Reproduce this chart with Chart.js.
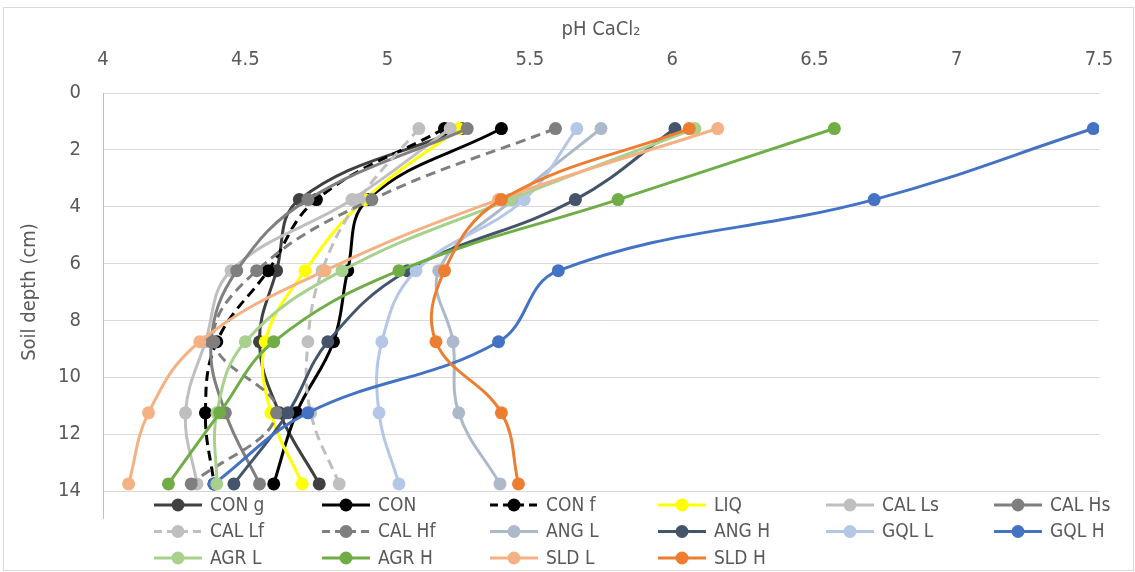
<!DOCTYPE html>
<html>
<head>
<meta charset="utf-8">
<script src="https://cdn.jsdelivr.net/npm/chart.js@4.4.1/dist/chart.umd.min.js"></script>
<style>
  html, body { margin: 0; padding: 0; background: #ffffff; }
  #wrap { width: 1135px; height: 572px; position: relative; }
</style>
</head>
<body>
<div id="wrap"><canvas id="c"></canvas></div>
<script>
// Sampling depths (cm) and axis tick values
const depths = [1.25, 3.75, 6.25, 8.75, 11.25, 13.75];
const depthTicks = [0, 2, 4, 6, 8, 10, 12, 14];
const phTicks = [4, 4.5, 5, 5.5, 6, 6.5, 7, 7.5];

// pH (CaCl2) profile of each treatment, top to bottom
const conG  = [5.26, 4.69, 4.61, 4.55, 4.62, 4.76];
const con   = [5.40, 4.93, 4.86, 4.81, 4.68, 4.60];
const conF  = [5.20, 4.75, 4.58, 4.40, 4.36, 4.39];
const liq   = [5.25, 4.92, 4.71, 4.57, 4.59, 4.70];
const calLs = [5.22, 4.875, 4.45, 4.36, 4.29, 4.33];
const calHs = [5.28, 4.72, 4.47, 4.38, 4.43, 4.55];
const calLf = [5.11, 4.90, 4.77, 4.72, 4.73, 4.83];
const calHf = [5.59, 4.945, 4.54, 4.39, 4.61, 4.31];
const angL  = [5.75, 5.44, 5.18, 5.23, 5.25, 5.395];
const angH  = [6.01, 5.66, 5.07, 4.79, 4.65, 4.46];
const gqlL  = [5.665, 5.48, 5.10, 4.98, 4.97, 5.04];
const gqlH  = [7.48, 6.71, 5.60, 5.39, 4.72, 4.39];
const agrL  = [6.08, 5.43, 4.84, 4.50, 4.40, 4.40];
const agrH  = [6.57, 5.81, 5.04, 4.60, 4.41, 4.23];
const sldL  = [6.16, 5.39, 4.78, 4.34, 4.16, 4.09];
const sldH  = [6.06, 5.40, 5.20, 5.17, 5.40, 5.46];

const seriesNames = ['CON g', 'CON', 'CON f', 'LIQ', 'CAL Ls', 'CAL Hs',
                     'CAL Lf', 'CAL Hf', 'ANG L', 'ANG H', 'GQL L', 'GQL H',
                     'AGR L', 'AGR H', 'SLD L', 'SLD H'];
const seriesValues = [conG, con, conF, liq, calLs, calHs,
                      calLf, calHf, angL, angH, gqlL, gqlH,
                      agrL, agrH, sldL, sldH];

// Line colour and dash pattern per treatment
const seriesStyles = [
  { color: '#404040', dash: [] },
  { color: '#000000', dash: [] },
  { color: '#000000', dash: [10, 6] },
  { color: '#FFFF00', dash: [] },
  { color: '#BFBFBF', dash: [] },
  { color: '#7F7F7F', dash: [] },
  { color: '#BFBFBF', dash: [10, 6] },
  { color: '#7F7F7F', dash: [10, 6] },
  { color: '#ADB9CA', dash: [] },
  { color: '#44546A', dash: [] },
  { color: '#B4C7E7', dash: [] },
  { color: '#4472C4', dash: [] },
  { color: '#A9D18E', dash: [] },
  { color: '#70AD47', dash: [] },
  { color: '#F4B183', dash: [] },
  { color: '#ED7D31', dash: [] }
];

const FONT = "'Liberation Sans Narrow', 'DejaVu Sans Condensed', 'Noto Sans', sans-serif";
const TEXT = '#595959';

const datasets = seriesNames.map((name, i) => ({
  label: name,
  data: depths.map((d, k) => ({ x: seriesValues[i][k], y: d })),
  showLine: true,
  tension: 0.4,
  borderColor: seriesStyles[i].color,
  backgroundColor: seriesStyles[i].color,
  borderDash: seriesStyles[i].dash,
  borderWidth: 3,
  pointRadius: 6.5,
  pointBorderWidth: 0,
  pointBackgroundColor: seriesStyles[i].color,
  pointHoverRadius: 6.5,
  order: seriesNames.length - i   // later series sit on top
}));

// White background, outer frame and the axis line running past the last tick
const frame = {
  id: 'frame',
  beforeDraw(chart) {
    const ctx = chart.ctx;
    ctx.save();
    ctx.fillStyle = '#ffffff';
    ctx.fillRect(0, 0, chart.width, chart.height);
    ctx.strokeStyle = '#d9d9d9';
    ctx.lineWidth = 1;
    ctx.strokeRect(3.5, 7.5, chart.width - 5, chart.height - 9);
    const a = chart.chartArea;
    ctx.strokeStyle = '#bfbfbf';
    ctx.beginPath();
    ctx.moveTo(Math.round(a.left) + 0.5, a.bottom);
    ctx.lineTo(Math.round(a.left) + 0.5, a.bottom + 28);
    ctx.stroke();
    ctx.restore();
  }
};

// Legend laid out as a fixed six-column grid under the plot
const gridLegend = {
  id: 'gridLegend',
  afterDraw(chart) {
    const ctx = chart.ctx;
    chart.data.datasets.forEach((ds, i) => {
      const col = i % 6, row = Math.floor(i / 6);
      const x0 = 154 + col * 168;
      const y = 505 + row * 26.5;
      ctx.save();
      ctx.strokeStyle = ds.borderColor;
      ctx.lineWidth = 3;
      ctx.setLineDash(ds.borderDash.length ? [8, 5] : []);
      ctx.beginPath();
      ctx.moveTo(x0, y);
      ctx.lineTo(x0 + 48, y);
      ctx.stroke();
      ctx.setLineDash([]);
      ctx.fillStyle = ds.backgroundColor;
      ctx.beginPath();
      ctx.arc(x0 + 24, y, 6.5, 0, Math.PI * 2);
      ctx.fill();
      ctx.fillStyle = TEXT;
      ctx.font = '19px ' + FONT;
      ctx.textBaseline = 'middle';
      ctx.textAlign = 'left';
      ctx.fillText(ds.label, x0 + 56, y + 1);
      ctx.restore();
    });
  }
};

new Chart(document.getElementById('c'), {
  type: 'scatter',
  data: { datasets },
  plugins: [frame, gridLegend],
  options: {
    responsive: true,
    maintainAspectRatio: false,
    devicePixelRatio: 1,
    animation: false,
    layout: { padding: { left: 0, right: 36, top: 0, bottom: 81 } },
    plugins: {
      legend: { display: false },
      tooltip: { enabled: false }
    },
    scales: {
      x: {
        type: 'linear',
        position: 'top',
        min: 4,
        max: 7.5,
        afterBuildTicks: s => { s.ticks = phTicks.map(v => ({ value: v })); },
        afterFit: s => { s.height = 93; },
        grid: { display: false, drawTicks: false },
        border: { display: false },
        ticks: {
          color: TEXT,
          font: { family: FONT, size: 20 },
          padding: 21,
          maxRotation: 0,
          callback: v => String(v)
        },
        title: {
          display: true,
          text: 'pH CaCl\u2082',
          color: TEXT,
          font: { family: FONT, size: 20 },
          padding: { top: 18, bottom: 0 }
        }
      },
      y: {
        type: 'linear',
        reverse: true,
        min: 0,
        max: 14,
        afterBuildTicks: s => { s.ticks = depthTicks.map(v => ({ value: v })); },
        afterFit: s => { s.width = 103; },
        grid: { color: '#d9d9d9', lineWidth: 1, drawTicks: false },
        border: { display: true, color: '#bfbfbf', width: 1 },
        ticks: {
          color: TEXT,
          font: { family: FONT, size: 20 },
          padding: 22,
          callback: v => String(v)
        },
        title: {
          display: true,
          text: 'Soil depth (cm)',
          color: TEXT,
          font: { family: FONT, size: 20 },
          padding: { top: 18, bottom: 0 }
        }
      }
    }
  }
});
</script>
</body>
</html>
